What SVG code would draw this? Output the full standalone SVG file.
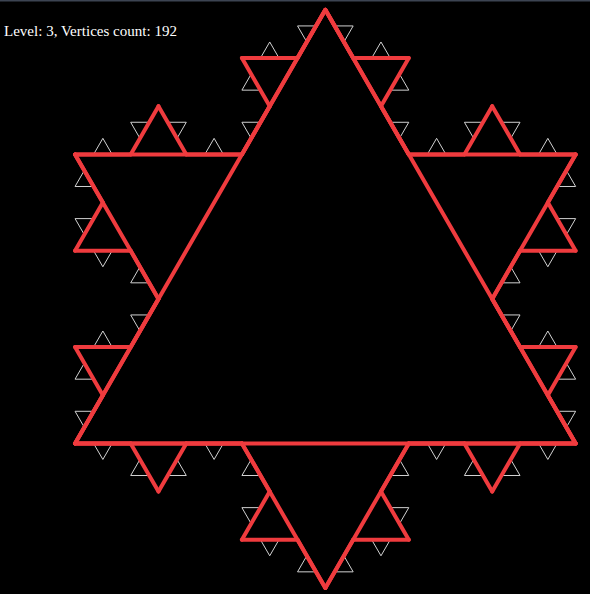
<svg xmlns="http://www.w3.org/2000/svg" xmlns:xlink="http://www.w3.org/1999/xlink" width="590" height="594" viewBox="0 0 590 594">
<style>
.seg{vector-effect:non-scaling-stroke}
.white{stroke:#d2d2d2;stroke-width:1;fill:none}
.red{stroke:#ef3b3e;stroke-width:4;fill:none;stroke-linecap:round}
.label{font-family:"Liberation Serif","Times New Roman",serif;font-size:15px;fill:#ffffff}
</style>
<defs>
<line id="s" class="seg" x1="0" y1="0" x2="1" y2="0"/>
<g id="k1">
<use href="#s" transform="scale(0.3333333)"/>
<use href="#s" transform="translate(0.3333333,0) rotate(-60) scale(0.3333333)"/>
<use href="#s" transform="translate(0.5,-0.2886751) rotate(60) scale(0.3333333)"/>
<use href="#s" transform="translate(0.6666667,0) scale(0.3333333)"/>
</g>
<g id="k2">
<use href="#k1" transform="scale(0.3333333)"/>
<use href="#k1" transform="translate(0.3333333,0) rotate(-60) scale(0.3333333)"/>
<use href="#k1" transform="translate(0.5,-0.2886751) rotate(60) scale(0.3333333)"/>
<use href="#k1" transform="translate(0.6666667,0) scale(0.3333333)"/>
</g>
<g id="k3">
<use href="#k2" transform="scale(0.3333333)"/>
<use href="#k2" transform="translate(0.3333333,0) rotate(-60) scale(0.3333333)"/>
<use href="#k2" transform="translate(0.5,-0.2886751) rotate(60) scale(0.3333333)"/>
<use href="#k2" transform="translate(0.6666667,0) scale(0.3333333)"/>
</g>
</defs>
<rect x="0" y="0" width="590" height="594" fill="#000000"/>
<rect x="0" y="0" width="590" height="1.5" fill="#3c4452"/>
<g id="level3-curve" class="white">
<use href="#k3" transform="translate(325.35,9.87) rotate(60) scale(500.6)"/>
<use href="#k3" transform="translate(575.65,443.4) rotate(180) scale(500.6)"/>
<use href="#k3" transform="translate(75.05,443.4) rotate(-60) scale(500.6)"/>
</g>
<g id="construction-levels" class="red">
<use href="#s" transform="translate(325.35,9.87) rotate(60) scale(500.6)"/>
<use href="#s" transform="translate(575.65,443.4) rotate(180) scale(500.6)"/>
<use href="#s" transform="translate(75.05,443.4) rotate(-60) scale(500.6)"/>
<use href="#k1" transform="translate(325.35,9.87) rotate(60) scale(500.6)"/>
<use href="#k1" transform="translate(575.65,443.4) rotate(180) scale(500.6)"/>
<use href="#k1" transform="translate(75.05,443.4) rotate(-60) scale(500.6)"/>
<use href="#k2" transform="translate(325.35,9.87) rotate(60) scale(500.6)"/>
<use href="#k2" transform="translate(575.65,443.4) rotate(180) scale(500.6)"/>
<use href="#k2" transform="translate(75.05,443.4) rotate(-60) scale(500.6)"/>
</g>
<text class="label" x="4" y="36" textLength="173" lengthAdjust="spacingAndGlyphs">Level: 3, Vertices count: 192</text>
</svg>
